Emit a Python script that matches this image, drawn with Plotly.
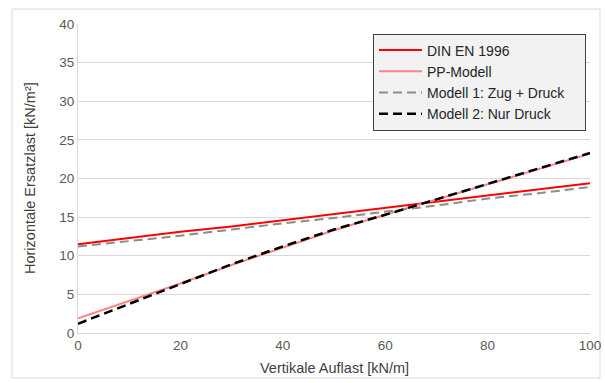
import plotly.graph_objects as go

# Data
x_vals = [0, 10, 20, 30, 40, 50, 60, 70, 80, 90, 100]
din_en_1996 = [11.5, 12.3, 13.1, 13.8, 14.6, 15.4, 16.2, 17.0, 17.8, 18.6, 19.4]
pp_modell = [1.9, 4.1, 6.4, 8.8, 11.1, 13.3, 15.3, 17.3, 19.3, 21.3, 23.2]
modell_1 = [11.2, 11.9, 12.6, 13.4, 14.2, 14.9, 15.7, 16.5, 17.4, 18.1, 18.9]
modell_2 = [1.2, 3.8, 6.4, 8.9, 11.2, 13.4, 15.3, 17.3, 19.4, 21.4, 23.3]

series_names = ["DIN EN 1996", "PP-Modell", "Modell 1: Zug + Druck", "Modell 2: Nur Druck"]

x_ticks = [0, 20, 40, 60, 80, 100]
y_ticks = [0, 5, 10, 15, 20, 25, 30, 35, 40]

x_title = "Vertikale Auflast [kN/m]"
y_title = "Horizontale Ersatzlast [kN/m²]"

FONT = "Liberation Sans, Arial, sans-serif"
PAD = "\u00a0" * 4  # invisible padding to widen the legend box

fig = go.Figure()
fig.add_trace(go.Scatter(x=x_vals, y=din_en_1996, mode="lines", name=series_names[0],
                         line=dict(color="#ff0000", width=2)))
fig.add_trace(go.Scatter(x=x_vals, y=pp_modell, mode="lines", name=series_names[1],
                         line=dict(color="#ff8585", width=2)))
fig.add_trace(go.Scatter(x=x_vals, y=modell_1, mode="lines", name=series_names[2] + PAD,
                         line=dict(color="#8c8c8c", width=2, dash="9px,5px")))
fig.add_trace(go.Scatter(x=x_vals, y=modell_2, mode="lines", name=series_names[3],
                         line=dict(color="#000000", width=2.5, dash="9px,5px")))

L, R, T, B = 78, 15, 24, 50
W, H = 605, 383
pw = W - L - R
ph = H - T - B

def px_x(px):
    return (px - L) / pw

def px_y(py):
    return (H - B - py) / ph

fig.update_layout(
    width=W, height=H,
    margin=dict(l=L, r=R, t=T, b=B, autoexpand=False),
    paper_bgcolor="white",
    plot_bgcolor="white",
    font=dict(family=FONT, size=13, color="#595959"),
    showlegend=True,
    legend=dict(
        x=px_x(373), y=px_y(82),
        xanchor="left", yanchor="middle",
        bgcolor="#f2f2f2", bordercolor="#404040", borderwidth=1,
        font=dict(family=FONT, size=14, color="#262626"),
        tracegroupgap=0, itemwidth=43,
    ),
    xaxis=dict(
        range=[0, 100], tickvals=x_ticks, ticks="", showgrid=False,
        showline=True, linecolor="#d9d9d9", linewidth=1, zeroline=False,
        automargin=False,
        tickfont=dict(size=13.5, color="#595959"),
    ),
    yaxis=dict(
        range=[0, 40], tickvals=y_ticks, ticks="", showgrid=True, gridcolor="#d9d9d9",
        showline=True, linecolor="#d9d9d9", linewidth=1, zeroline=False,
        automargin=False,
        tickfont=dict(size=13.5, color="#595959"),
    ),
    annotations=[
        dict(text=x_title, xref="paper", yref="paper", x=px_x(334), y=px_y(368),
             xanchor="center", yanchor="middle", showarrow=False,
             font=dict(family=FONT, size=14.5, color="#404040")),
        dict(text=y_title, xref="paper", yref="paper", x=px_x(30), y=px_y(178),
             xanchor="center", yanchor="middle", showarrow=False, textangle=-90,
             font=dict(family=FONT, size=14.5, color="#404040")),
    ],
    shapes=[dict(
        type="rect", xref="paper", yref="paper",
        x0=px_x(12), x1=px_x(600),
        y0=px_y(378), y1=px_y(9),
        line=dict(color="#d9d9d9", width=1), fillcolor="rgba(0,0,0,0)", layer="below",
    )],
)

fig.write_html("out.html", config={"displayModeBar": False},
               post_script="document.body.style.margin='0';")
